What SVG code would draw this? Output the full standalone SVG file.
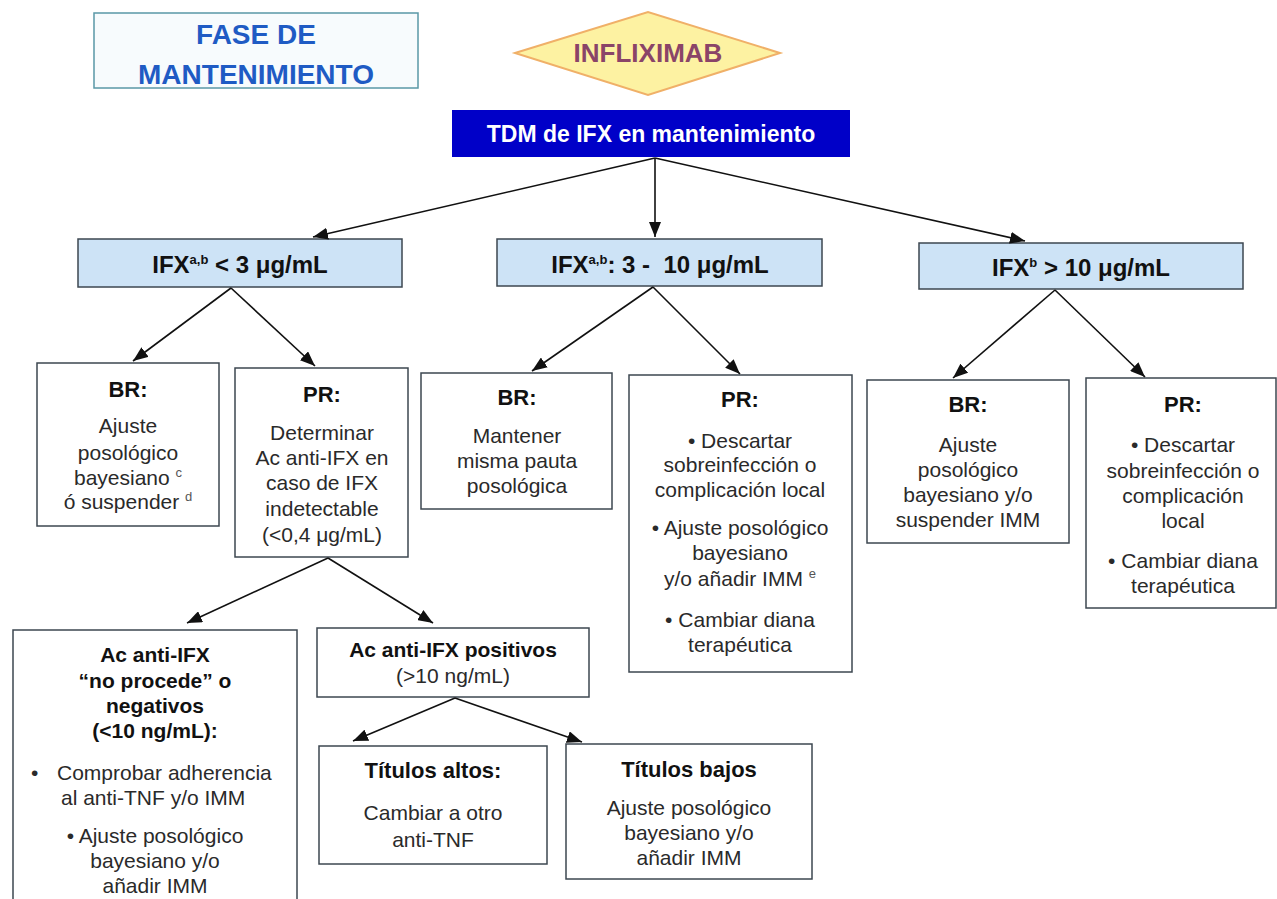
<svg xmlns="http://www.w3.org/2000/svg" width="1277" height="899" viewBox="0 0 1277 899">
<defs>
<marker id="ah" markerUnits="userSpaceOnUse" markerWidth="16" markerHeight="12" refX="15" refY="6" orient="auto">
<path d="M0,0 L15,6 L0,12 z" fill="#111"/>
</marker>
<style>
.box{fill:#fff;stroke:#3d4750;stroke-width:1.5}
.lvl2{fill:#cde3f6;stroke:#3d4750;stroke-width:1.5}
text{font-family:"Liberation Sans",Arial,sans-serif}
.t{font-size:21px;fill:#2a2a2a;text-anchor:middle}
.ts{font-size:21px;fill:#2a2a2a;text-anchor:start}
.h{font-size:22px;font-weight:bold;fill:#111;text-anchor:middle}
.hb{font-size:21px;font-weight:bold;fill:#111;text-anchor:middle}
.l2{font-size:24px;font-weight:bold;fill:#111;text-anchor:middle}
.sup{font-size:13px}
.conn line{stroke:#111;stroke-width:1.6;fill:none;marker-end:url(#ah)}
</style>
</defs>
<rect width="1277" height="899" fill="#fff"/>

<g id="fase">
<rect x="94" y="13" width="324" height="75" fill="#f7fbfd" stroke="#5a98a6" stroke-width="1.5"/>
<text x="256" y="44" font-size="28" font-weight="bold" fill="#1f5bc4" text-anchor="middle">FASE DE</text>
<text x="256" y="84" font-size="28" font-weight="bold" fill="#1f5bc4" text-anchor="middle">MANTENIMIENTO</text>
</g>

<g id="infliximab">
<polygon points="515,53 648,12 780,53 648,95" fill="#fdf2a2" stroke="#f0b068" stroke-width="2"/>
<text x="648" y="62" font-size="26" font-weight="bold" fill="#8a4468" text-anchor="middle">INFLIXIMAB</text>
</g>

<g id="tdm">
<rect x="452" y="110" width="398" height="47" fill="#0000c8"/>
<text x="651" y="142" font-size="23" font-weight="bold" fill="#fff" text-anchor="middle">TDM de IFX en mantenimiento</text>
</g>

<g id="ifx-low">
<rect class="lvl2" x="78" y="239" width="324" height="48"/>
<text class="l2" x="240" y="273">IFX<tspan class="sup" dy="-9">a,b</tspan><tspan dy="9"> &lt; 3 μg/mL</tspan></text>
</g>

<g id="ifx-mid">
<rect class="lvl2" x="497" y="239" width="325" height="47"/>
<text class="l2" x="660" y="273" xml:space="preserve">IFX<tspan class="sup" dy="-9">a,b</tspan><tspan dy="9">: 3 -  10 μg/mL</tspan></text>
</g>

<g id="ifx-high">
<rect class="lvl2" x="919" y="243" width="324" height="46"/>
<text class="l2" x="1081" y="276">IFX<tspan class="sup" dy="-9">b</tspan><tspan dy="9"> &gt; 10 μg/mL</tspan></text>
</g>

<g id="br-low">
<rect class="box" x="37" y="363" width="182" height="163"/>
<text class="h" x="128" y="397">BR:</text>
<text class="t" x="128" y="433">Ajuste</text>
<text class="t" x="128" y="460">posológico</text>
<text class="t" x="128" y="485">bayesiano <tspan class="sup" dy="-8" fill="#555">c</tspan></text>
<text class="t" x="128" y="509">ó suspender <tspan class="sup" dy="-8" fill="#555">d</tspan></text>
</g>

<g id="pr-low">
<rect class="box" x="235" y="368" width="173" height="189"/>
<text class="h" x="322" y="402">PR:</text>
<text class="t" x="322" y="440">Determinar</text>
<text class="t" x="322" y="465">Ac anti-IFX en</text>
<text class="t" x="322" y="490">caso de IFX</text>
<text class="t" x="322" y="516">indetectable</text>
<text class="t" x="322" y="542">(&lt;0,4 μg/mL)</text>
</g>

<g id="br-mid">
<rect class="box" x="421" y="373" width="191" height="136"/>
<text class="h" x="517" y="405">BR:</text>
<text class="t" x="517" y="443">Mantener</text>
<text class="t" x="517" y="468">misma pauta</text>
<text class="t" x="517" y="493">posológica</text>
</g>

<g id="pr-mid">
<rect class="box" x="629" y="375" width="223" height="297"/>
<text class="h" x="740" y="407">PR:</text>
<text class="t" x="740" y="448">• Descartar</text>
<text class="t" x="740" y="472">sobreinfección o</text>
<text class="t" x="740" y="497">complicación local</text>
<text class="t" x="740" y="535">• Ajuste posológico</text>
<text class="t" x="740" y="560">bayesiano</text>
<text class="t" x="740" y="586">y/o añadir IMM <tspan class="sup" dy="-8" fill="#555">e</tspan></text>
<text class="t" x="740" y="627">• Cambiar diana</text>
<text class="t" x="740" y="652">terapéutica</text>
</g>

<g id="br-high">
<rect class="box" x="867" y="380" width="202" height="163"/>
<text class="h" x="968" y="412">BR:</text>
<text class="t" x="968" y="452">Ajuste</text>
<text class="t" x="968" y="477">posológico</text>
<text class="t" x="968" y="502">bayesiano y/o</text>
<text class="t" x="968" y="527">suspender IMM</text>
</g>

<g id="pr-high">
<rect class="box" x="1086" y="378" width="190" height="230"/>
<text class="h" x="1183" y="412">PR:</text>
<text class="t" x="1183" y="452">• Descartar</text>
<text class="t" x="1183" y="478">sobreinfección o</text>
<text class="t" x="1183" y="503">complicación</text>
<text class="t" x="1183" y="528">local</text>
<text class="t" x="1183" y="568">• Cambiar diana</text>
<text class="t" x="1183" y="593">terapéutica</text>
</g>

<g id="ac-neg">
<rect class="box" x="13" y="630" width="284" height="290"/>
<text class="hb" x="155" y="662">Ac anti-IFX</text>
<text class="hb" x="155" y="688">“no procede” o</text>
<text class="hb" x="155" y="713">negativos</text>
<text class="hb" x="155" y="738">(&lt;10 ng/mL):</text>
<text class="ts" x="31" y="780">•</text>
<text class="ts" x="57" y="780">Comprobar adherencia</text>
<text class="ts" x="61" y="805">al anti-TNF y/o IMM</text>
<text class="t" x="155" y="843">• Ajuste posológico</text>
<text class="t" x="155" y="868">bayesiano y/o</text>
<text class="t" x="155" y="893">añadir IMM</text>
</g>

<g id="ac-pos">
<rect class="box" x="317" y="628" width="272" height="69"/>
<text class="hb" x="453" y="657">Ac anti-IFX positivos</text>
<text class="t" x="453" y="683">(&gt;10 ng/mL)</text>
</g>

<g id="titulos-altos">
<rect class="box" x="319" y="746" width="228" height="118"/>
<text class="h" x="433" y="778">Títulos altos:</text>
<text class="t" x="433" y="820">Cambiar a otro</text>
<text class="t" x="433" y="847">anti-TNF</text>
</g>

<g id="titulos-bajos">
<rect class="box" x="566" y="744" width="246" height="135"/>
<text class="h" x="689" y="777">Títulos bajos</text>
<text class="t" x="689" y="815">Ajuste posológico</text>
<text class="t" x="689" y="840">bayesiano y/o</text>
<text class="t" x="689" y="865">añadir IMM</text>
</g>

<g id="connectors" class="conn">
<line x1="655" y1="158" x2="313" y2="237"/>
<line x1="655" y1="158" x2="655" y2="237"/>
<line x1="655" y1="158" x2="1025" y2="241"/>
<line x1="231" y1="288" x2="133" y2="361"/>
<line x1="231" y1="288" x2="315" y2="366"/>
<line x1="653" y1="287" x2="532" y2="371"/>
<line x1="653" y1="287" x2="740" y2="374"/>
<line x1="1055" y1="290" x2="953" y2="378"/>
<line x1="1055" y1="290" x2="1145" y2="377"/>
<line x1="328" y1="558" x2="187" y2="623"/>
<line x1="328" y1="558" x2="433" y2="623"/>
<line x1="455" y1="698" x2="353" y2="741"/>
<line x1="455" y1="698" x2="582" y2="742"/>
</g>
</svg>
